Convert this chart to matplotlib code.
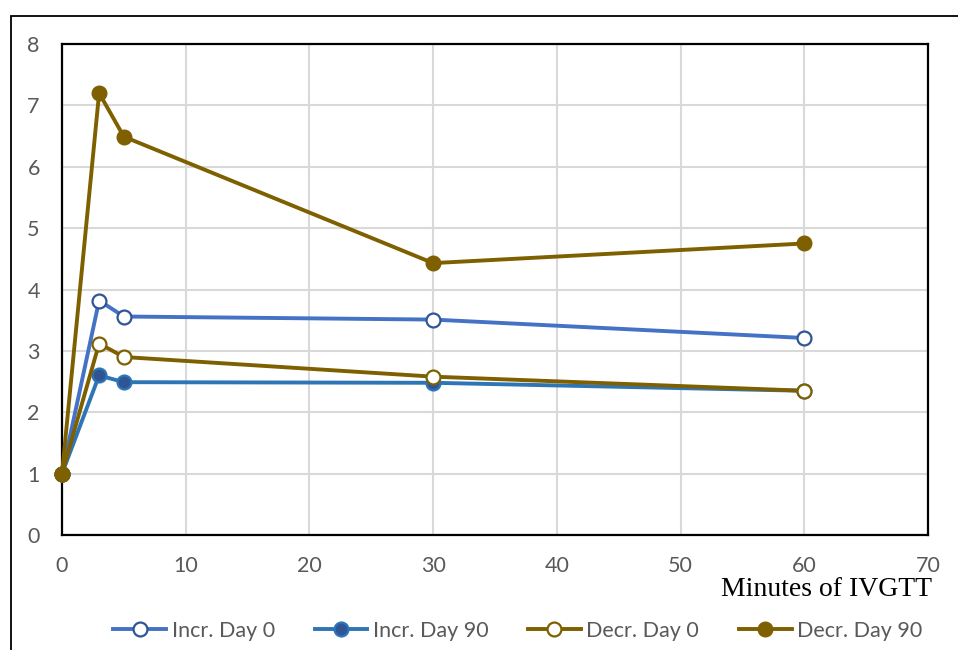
import matplotlib.pyplot as plt
from matplotlib.patches import Rectangle

# Data
minutes = [0, 3, 5, 30, 60]
incr_day0 = [1.0, 3.82, 3.56, 3.51, 3.21]
incr_day90 = [1.0, 2.60, 2.49, 2.48, 2.35]
decr_day0 = [1.0, 3.12, 2.90, 2.58, 2.35]
decr_day90 = [1.0, 7.20, 6.49, 4.43, 4.75]

blue = "#4472C4"
blue2 = "#2E75B6"
gold = "#7F6000"
grey_txt = "#595959"

fig = plt.figure(figsize=(9.58, 6.5), dpi=100)
ax = fig.add_axes([62 / 958, 1 - 535 / 650, (928 - 62) / 958, (535 - 44) / 650])

# outer frame (only top and left edges fall inside the image)
fig.patches.append(Rectangle((10.5 / 958, -0.05), 1.2, 1 - 15.5 / 650 + 0.05,
                             transform=fig.transFigure, fill=False,
                             edgecolor="black", linewidth=1.3, zorder=0))

lw = 2.8
ax.plot(minutes, incr_day0, color=blue, lw=lw, marker="o", ms=10,
        mfc="white", mec="#2F5597", mew=1.6, label="Incr. Day 0", clip_on=False, zorder=3)
ax.plot(minutes, incr_day90, color=blue2, lw=lw, marker="o", ms=10,
        mfc="#2F5597", mec=blue2, mew=1.6, label="Incr. Day 90", clip_on=False, zorder=4)
ax.plot(minutes, decr_day0, color=gold, lw=lw, marker="o", ms=10,
        mfc="white", mec=gold, mew=1.6, label="Decr. Day 0", clip_on=False, zorder=5)
ax.plot(minutes, decr_day90, color=gold, lw=lw, marker="o", ms=10.5,
        mfc=gold, mec=gold, mew=1.0, label="Decr. Day 90", clip_on=False, zorder=6)

ax.set_xlim(0, 70)
ax.set_ylim(0, 8)
ax.set_xticks(range(0, 71, 10))
ax.set_yticks(range(0, 9))
ax.grid(True, color="#D9D9D9", lw=1.5)
ax.set_axisbelow(True)
for s in ax.spines.values():
    s.set_color("black")
    s.set_linewidth(1.6)
ax.tick_params(length=0, labelsize=15.5, labelcolor=grey_txt)
ax.tick_params(axis="x", pad=15)
ax.tick_params(axis="y", pad=16)
for lab in ax.get_xticklabels() + ax.get_yticklabels():
    lab.set_fontfamily("Lato")

fig.text(932 / 958, 1 - 589 / 650, "Minutes of IVGTT", ha="right", va="center",
         fontsize=20, family="Liberation Serif", color="black")

leg = fig.legend(loc="center", bbox_to_anchor=(0.5405, 1 - 631 / 650), ncol=4,
                 frameon=False, handlelength=2.45, columnspacing=1.85, handletextpad=0.25,
                 prop={"family": "Lato", "size": 15.5})
for t in leg.get_texts():
    t.set_color(grey_txt)

fig.savefig("out.png", dpi=100)
